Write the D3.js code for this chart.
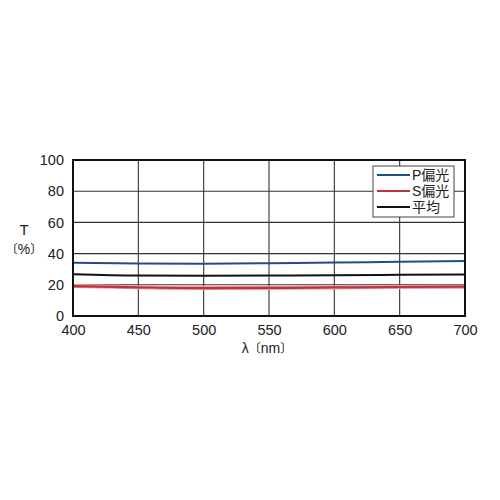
<!DOCTYPE html>
<html><head><meta charset="utf-8">
<script src="https://cdn.jsdelivr.net/npm/d3@7"></script>
<style>
body{margin:0;background:#fff;}
text{font-family:"Liberation Sans",Arial,"Noto Sans CJK JP",sans-serif;fill:#222;}
</style></head><body>
<svg id="c" width="500" height="500"></svg>
<script>
const wavelengths = [400, 450, 500, 550, 600, 650, 700];
const pValues = [34.2, 33.7, 33.5, 33.8, 34.3, 34.7, 35.2];
const sValues = [19.2, 18.4, 17.9, 18.0, 18.3, 18.6, 18.8];
const avgValues = [26.7, 25.9, 25.8, 25.9, 26.2, 26.4, 26.6];
const xTicks = [400, 450, 500, 550, 600, 650, 700];
const yTicks = [0, 20, 40, 60, 80, 100];
const seriesNames = ["P偏光", "S偏光", "平均"];
const seriesColors = ["#1f4e86", "#c0323c", "#111111"];

const svg = d3.select("#c");
const L = 73, R = 465, T = 160, B = 316;
const x = d3.scaleLinear().domain([400, 700]).range([L, R]);
const y = d3.scaleLinear().domain([0, 100]).range([B, T]);

// grid
svg.append("g").selectAll("line").data(xTicks).join("line")
  .attr("x1", d => x(d)).attr("x2", d => x(d)).attr("y1", T).attr("y2", B)
  .attr("stroke", "#333").attr("stroke-width", 1.1);
svg.append("g").selectAll("line").data(yTicks).join("line")
  .attr("x1", L).attr("x2", R).attr("y1", d => y(d)).attr("y2", d => y(d))
  .attr("stroke", "#333").attr("stroke-width", 1.1);

// axes labels via d3 axes
const xAxis = svg.append("g").attr("transform", `translate(0,${B})`)
  .call(d3.axisBottom(x).tickValues(xTicks).tickSize(0).tickPadding(9));
xAxis.select(".domain").remove();
xAxis.selectAll("text").style("font-size", "14.5px").attr("fill", "#222")
  .style("font-family", "'Liberation Sans',Arial,sans-serif");
const yAxis = svg.append("g").attr("transform", `translate(${L},0)`)
  .call(d3.axisLeft(y).tickValues(yTicks).tickSize(0).tickPadding(9));
yAxis.select(".domain").remove();
yAxis.selectAll("text").style("font-size", "14.5px").attr("fill", "#222")
  .style("font-family", "'Liberation Sans',Arial,sans-serif");

// series
const line = d3.line().x((d, i) => x(wavelengths[i])).y(d => y(d)).curve(d3.curveMonotoneX);
const allSeries = [pValues, sValues, avgValues];
svg.append("path").attr("d", line(sValues)).attr("fill", "none")
  .attr("stroke", "#e8a0a4").attr("stroke-width", 4);
allSeries.forEach((vals, i) => {
  svg.append("path").attr("d", line(vals)).attr("fill", "none")
    .attr("stroke", seriesColors[i]).attr("stroke-width", i === 1 ? 2.2 : 2);
});

// frame
svg.append("rect").attr("x", L).attr("y", T).attr("width", R - L).attr("height", B - T)
  .attr("fill", "none").attr("stroke", "#111").attr("stroke-width", 2);

// legend
const lg = svg.append("g");
lg.append("rect").attr("x", 373).attr("y", 166).attr("width", 81).attr("height", 51)
  .attr("fill", "#fff").attr("stroke", "#444").attr("stroke-width", 1);
seriesNames.forEach((n, i) => {
  const yy = 175 + i * 16;
  lg.append("line").attr("x1", 377).attr("x2", 410).attr("y1", yy).attr("y2", yy)
    .attr("stroke", seriesColors[i]).attr("stroke-width", 2);
  lg.append("text").attr("x", 412).attr("y", yy + 5).text(n).attr("fill", "#222")
    .style("font-size", "14px").style("font-family", "'Liberation Sans','Noto Sans CJK JP',sans-serif");
});

// axis titles
const cjk = "'Noto Sans CJK JP',sans-serif", lat = "'Liberation Sans',Arial,sans-serif";
svg.append("text").attr("x", 24).attr("y", 235).attr("text-anchor", "middle").attr("fill", "#222")
  .style("font-size", "15px").style("font-family", lat).text("T");
const yt = svg.append("text").attr("x", 24).attr("y", 254).attr("text-anchor", "middle").attr("fill", "#222")
  .style("font-size", "12px").style("font-family", cjk);
yt.append("tspan").text("〔");
yt.append("tspan").style("font-family", lat).style("font-size", "14px").text("%");
yt.append("tspan").text("〕");
const xt = svg.append("text").attr("x", 267).attr("y", 353).attr("text-anchor", "middle").attr("fill", "#222")
  .style("font-size", "12px").style("font-family", cjk);
xt.append("tspan").style("font-family", lat).style("font-size", "14px").text("λ");
xt.append("tspan").text("〔");
xt.append("tspan").style("font-family", lat).style("font-size", "14px").text("nm");
xt.append("tspan").text("〕");
</script>
</body></html>
